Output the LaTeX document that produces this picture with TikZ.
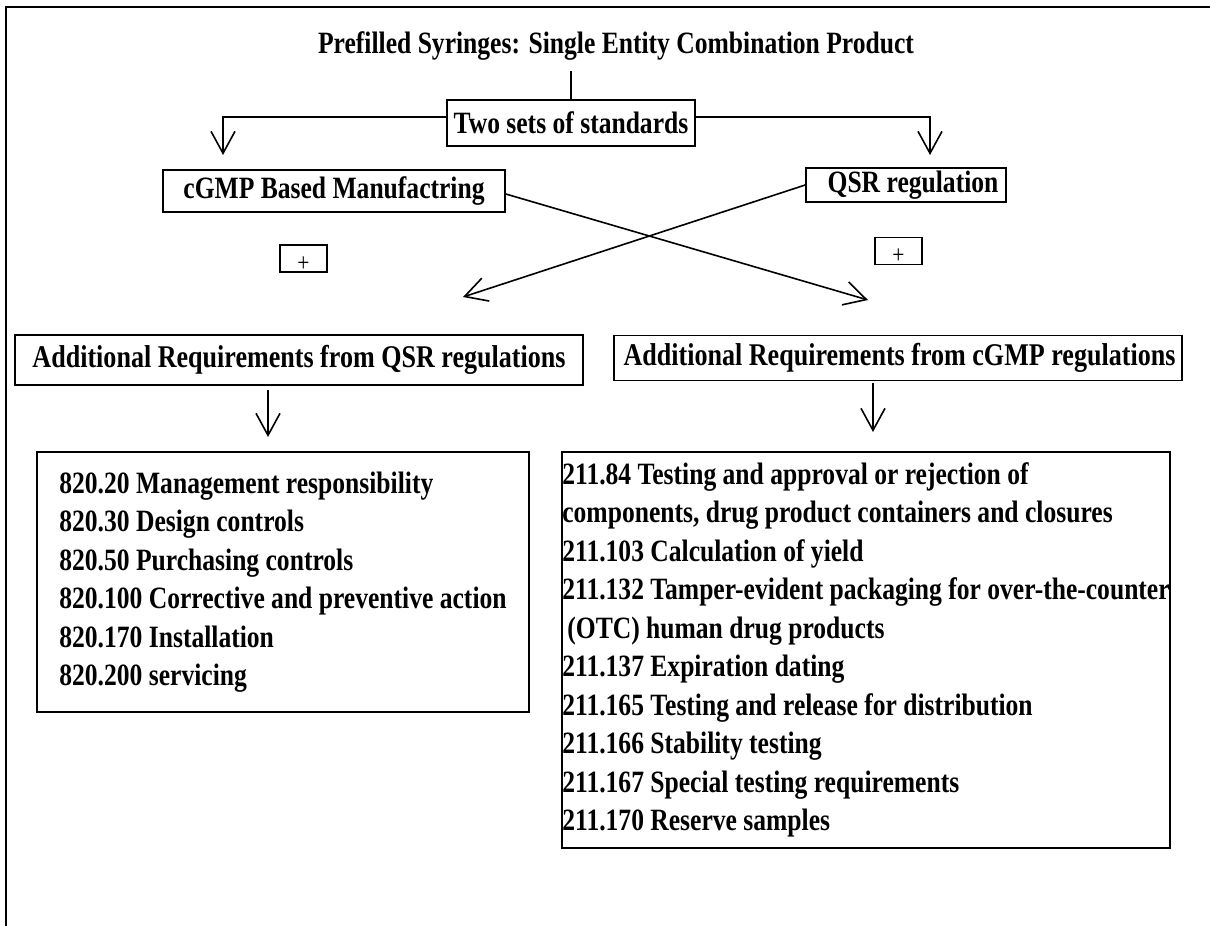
\documentclass[tikz,border=0pt]{standalone}
\usepackage{fontspec}
\setmainfont{Liberation Serif}[FakeStretch=0.825]
\usetikzlibrary{arrows.meta}
\newcommand\dgfont{\fontsize{31}{38.5}\selectfont\bfseries}
\newcommand\dghead{\fontsize{31.6}{38.5}\selectfont\bfseries}
\begin{document}
\begin{tikzpicture}[x=1pt,y=-1pt,
  lw/.style={line width=1.6pt},
  box/.style={draw,lw,inner sep=0pt,font=\dgfont},
  headbox/.style={draw,lw,inner sep=0pt,font=\dghead,minimum width=568pt},
  plusbox/.style={draw,lw,minimum width=47pt,minimum height=27pt,inner sep=0pt},
  plustext/.style={inner sep=0pt,font=\fontsize{26}{26}\selectfont},
  arr/.style={lw,-{Straight Barb[length=22pt,width=24pt]}}]
\useasboundingbox (0,0) rectangle (1210,926);
% frame
\coordinate (f1) at (6,926);
\coordinate (f2) at (6,7);
\coordinate (f3) at (1210,7);
\draw[lw] (f1) -- (f2) -- (f3);
% title
\node[anchor=base,font=\dgfont,inner sep=2pt] (title) at (616,53) {Prefilled Syringes: Single Entity Combination Product};
\node[box,minimum width=248pt,minimum height=46pt] (two) at (571,123) {Two sets of standards};
\draw[lw] (two.north) -- ([yshift=28pt]two.north);
% level 2
\node[box,minimum width=342pt,minimum height=42pt] (cgmp) at (334,191) {cGMP Based Manufactring};
\node[box,minimum width=200pt,minimum height=34pt] (qsr) at (906,185) {\hspace{14pt}QSR regulation};
\coordinate (aL) at (223,155);
\coordinate (aR) at (930,155);
\draw[arr] ([yshift=6pt]two.west) -| (aL);
\draw[arr] ([yshift=6pt]two.east) -| (aR);
% plus boxes
\node[plusbox] (p1) at (303.5,258.5) {};
\node[plustext] (p1t) at (303.5,264) {+};
\node[plusbox] (p2) at (898.5,251) {};
\node[plustext] (p2t) at (898.5,256.5) {+};
% cross arrows
\coordinate (tR) at (868,300);
\coordinate (tL) at (463,297);
\draw[arr] ([yshift=-3pt]cgmp.east) -- (tR);
\draw[arr] (qsr.west) -- (tL);
% headings
\node[headbox,minimum height=50pt] (hq) at (299,360) {Additional Requirements from QSR regulations};
\node[headbox,minimum height=45pt] (hc) at (898,358) {\hspace{3pt}Additional Requirements from cGMP regulations};
\coordinate (aq) at (268,437);
\coordinate (ac) at (873,432);
\draw[arr,shorten <=4pt] (hq.south -| aq) -- (aq);
\draw[arr,shorten <=2pt] (hc.south -| ac) -- (ac);
% lists
\node[box,align=left,minimum width=492pt,minimum height=260pt] (lq) at (283,582) {820.20 Management responsibility\\
820.30 Design controls\\
820.50 Purchasing controls\\
820.100 Corrective and preventive action\\
820.170 Installation\\
820.200 servicing};
\node[box,align=left,minimum width=608pt,minimum height=396pt] (lc) at (866,650) {211.84 Testing and approval or rejection of\\
components, drug product containers and closures\\
211.103 Calculation of yield\\
211.132 Tamper-evident packaging for over-the-counter\\
\hspace{5pt}(OTC) human drug products\\
211.137 Expiration dating\\
211.165 Testing and release for distribution\\
211.166 Stability testing\\
211.167 Special testing requirements\\
211.170 Reserve samples};
\end{tikzpicture}
\end{document}
